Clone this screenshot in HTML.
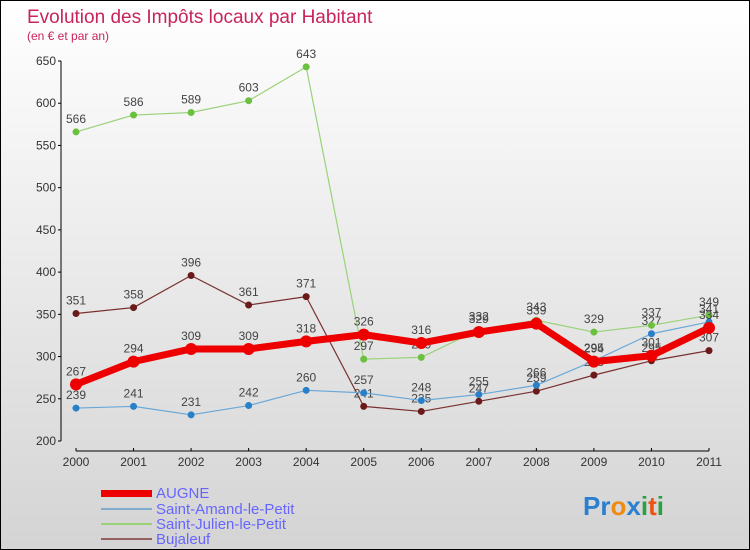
<!DOCTYPE html>
<html><head><meta charset="utf-8"><style>
body{margin:0}
#wrap{width:748px;height:548px;border:1px solid #000;background:linear-gradient(#fff,#d4d4d4);position:relative;overflow:hidden;font-family:"Liberation Sans",sans-serif}
</style></head><body>
<div id="wrap">
<svg id="svg" width="748" height="548">
<text x="26" y="22" font-size="19" fill="#c8245a">Evolution des Impôts locaux par Habitant</text>
<text x="26" y="39" font-size="12" fill="#c8245a">(en € et par an)</text>
<g id="axes"></g><g id="series"></g>
<g>
<rect x="100" y="489" width="51" height="7" fill="#e00"/>
<text x="155" y="497" font-size="15" fill="#6666ff">AUGNE</text>
<rect x="100" y="507" width="51" height="2" fill="#80acd0"/>
<text x="155" y="513" font-size="15" fill="#6666ff">Saint-Amand-le-Petit</text>
<rect x="100" y="522" width="51" height="2" fill="#9ad27a"/>
<text x="155" y="528" font-size="15" fill="#6666ff">Saint-Julien-le-Petit</text>
<rect x="100" y="537" width="51" height="2" fill="#946060"/>
<text x="155" y="543" font-size="15" fill="#6666ff">Bujaleuf</text>
</g>
<text x="582" y="514" font-size="26" font-weight="bold"><tspan fill="#2a7fd0">Pr</tspan><tspan fill="#f08a10">o</tspan><tspan fill="#2a7fd0">x</tspan><tspan fill="#2aa040">i</tspan><tspan fill="#f05010">t</tspan><tspan fill="#2aa040">i</tspan></text>
</svg></div>
<script>
const years=["2000","2001","2002","2003","2004","2005","2006","2007","2008","2009","2010","2011"];
const yTicks=[200,250,300,350,400,450,500,550,600,650];
const augne=[267,294,309,309,318,326,316,329,339,294,301,334];
const saintAmand=[239,241,231,242,260,257,248,255,266,295,327,341];
const saintJulien=[566,586,589,603,643,297,299,332,343,329,337,349];
const bujaleuf=[351,358,396,361,371,241,235,247,259,278,295,307];
const NS="http://www.w3.org/2000/svg";
function xs(i){return 75+i*(708-75)/(years.length-1);}
function ys(v){return 440-(v-200)*(380/450);}
function mk(t,a,p){const e=document.createElementNS(NS,t);for(const k in a)e.setAttribute(k,a[k]);p.appendChild(e);return e;}
const ax=document.getElementById('axes');
let l=mk('line',{x1:60,y1:ys(650),x2:60,y2:ys(200),stroke:'#000'},ax);


yTicks.forEach(v=>{mk('line',{x1:57,y1:ys(v),x2:60,y2:ys(v),stroke:'#000'},ax);
const t=mk('text',{x:55,y:ys(v)+4,'font-size':12,fill:'#333','text-anchor':'end'},ax);t.textContent=v;

});
l=mk('line',{x1:75,y1:450,x2:708,y2:450,stroke:'#000'},ax);


years.forEach((y,i)=>{mk('line',{x1:xs(i),y1:447,x2:xs(i),y2:450,stroke:'#000'},ax);
const t=mk('text',{x:xs(i),y:465,'font-size':12,fill:'#333','text-anchor':'middle'},ax);t.textContent=y;

});
const sg=document.getElementById('series');
function draw(name,data,color,w,r,dot){
const g=mk('g',{},sg);


mk('polyline',{points:data.map((v,i)=>xs(i)+','+ys(v)).join(' '),fill:'none',stroke:color,'stroke-width':w,'stroke-linejoin':'round'},g);
data.forEach((v,i)=>{const c=mk('circle',{cx:xs(i),cy:ys(v),r:r,fill:dot},g);


const t=mk('text',{x:xs(i),y:ys(v)-9,'font-size':12,fill:'#444','text-anchor':'middle'},g);t.textContent=v;

});}
draw('bujaleuf',bujaleuf,'#7a3030',1.2,3.5,'#6a1a1a');
draw('saint-amand',saintAmand,'#6aa8d8',1.2,3.5,'#2a80c8');
draw('saint-julien',saintJulien,'#9ad27a',1.2,3.5,'#6cc040');
draw('augne',augne,'#ee0000',7,6,'#ee0000');
</script></body></html>
